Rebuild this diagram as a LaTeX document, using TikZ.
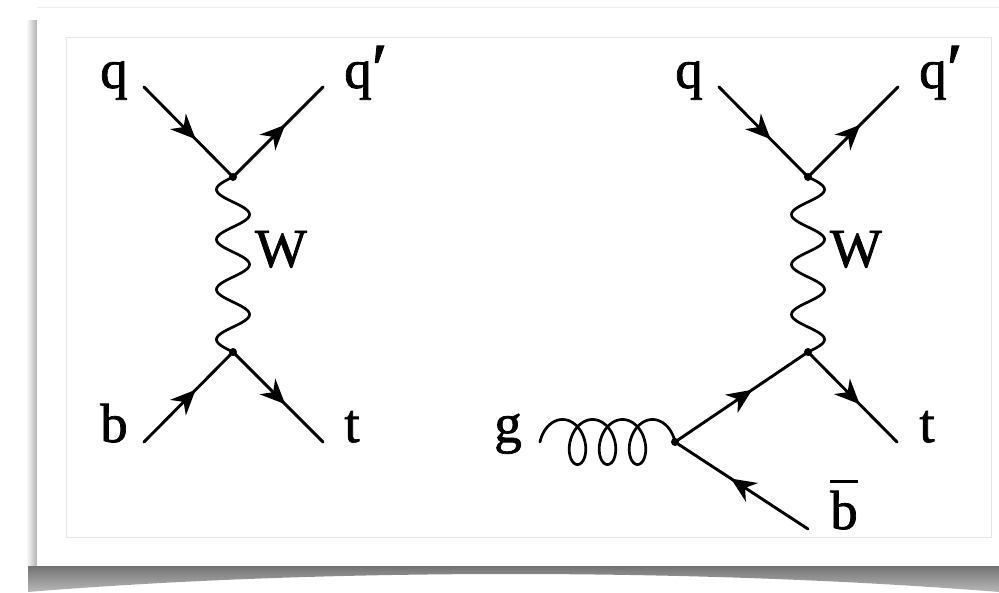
\documentclass[tikz,border=0pt]{standalone}
\usepackage{fontspec}
\setmainfont{Liberation Serif}
\newfontfamily\lblfont[FakeBold=1.3]{Liberation Serif}
\newcommand{\bigprime}{\raisebox{-5pt}{\fontsize{72}{72}\selectfont ′}}
\usetikzlibrary{arrows.meta,decorations.markings}
\tikzset{
  lbl/.style={inner sep=0pt, anchor=base, font=\lblfont\fontsize{55}{60}\selectfont},
  plainline/.style={line width=2.9pt, line cap=round},
  fermion/.style={plainline, postaction={decorate},
    decoration={markings, mark=at position 0.58 with {\arrow{Stealth[length=25pt,width=22pt,inset=8pt]}}}},
  boson/.style={line width=2.7pt, line cap=round},
  vdot/.style={circle, fill=black, inner sep=0pt, minimum size=8pt},
}
\begin{document}
\begin{tikzpicture}[x=1pt,y=-1pt]
\useasboundingbox (0,0) rectangle (999,592);
% card shadow
\shade[left color=white, right color=black!32] (26,20) rectangle (37.5,566);
\shade[top color=black!55, bottom color=black!28]
  (28,566) -- (999,566) -- (999,592) .. controls (700,568) and (320,568) .. (28,592) -- cycle;
% card
\fill[white] (37,7) rectangle (999,566);
\draw[black!7, line width=0.8pt] (37,7) -- (999,7);
% inner frame
\draw[black!10, line width=0.9pt] (66,37) rectangle (991,537);

% ---- left diagram ----
\coordinate (qa) at (144,87);
\coordinate (qpa) at (323,87);
\coordinate (ba) at (144,442);
\coordinate (ta) at (323,442);
\node[vdot] (v1) at (233,177) {};
\node[vdot] (v2) at (233,352) {};
\draw[fermion] (qa) -- (v1.center);
\draw[fermion] (v1.center) -- (qpa);
\draw[fermion] (ba) -- (v2.center);
\draw[fermion] (v2.center) -- (ta);
\draw[boson, shift={(v1.center)}] plot[domain=0:175, samples=160, smooth] ({-16.5*sin(\x*7.2)}, {\x});
\node[lbl] (lq) at (114,88) {q};
\node[lbl, anchor=base west] (lqp) at (344,88) {q\bigprime};
\node[lbl] (lw) at (281,267) {W};
\node[lbl] (lb) at (114,442) {b};
\node[lbl] (lt) at (352,442) {t};

% ---- right diagram ----
\coordinate (qb) at (719,87);
\coordinate (qpb) at (898,87);
\coordinate (tb) at (897,442);
\coordinate (bbar) at (808,529);
\node[vdot] (v3) at (808,177) {};
\node[vdot] (v4) at (808,352) {};
\node[vdot] (gv) at (675,442) {};
\draw[fermion] (qb) -- (v3.center);
\draw[fermion] (v3.center) -- (qpb);
\draw[fermion] (v4.center) -- (tb);
\draw[fermion] (gv.center) -- (v4.center);
\draw[fermion] (bbar) -- (gv.center);
\draw[boson, shift={(v3.center)}] plot[domain=0:175, samples=160, smooth] ({16.5*sin(\x*7.2)}, {\x});
\draw[boson, shift={(gv.center)}] plot[domain=-90:1170, samples=400, smooth]
  ({-112.5 + 0.083333*\x + 15*sin(\x)}, {-22.5*cos(\x)});
\node[lbl] (rq) at (689,88) {q};
\node[lbl, anchor=base west] (rqp) at (919,88) {q\bigprime};
\node[lbl] (rw) at (856,267) {W};
\node[lbl] (rt) at (927,442) {t};
\node[lbl] (rg) at (508,442) {g};
\node[lbl] (rb) at (844,529) {\leavevmode\vbox{\hrule height 2.6pt\kern 8pt\hbox{b}}};
\end{tikzpicture}
\end{document}
